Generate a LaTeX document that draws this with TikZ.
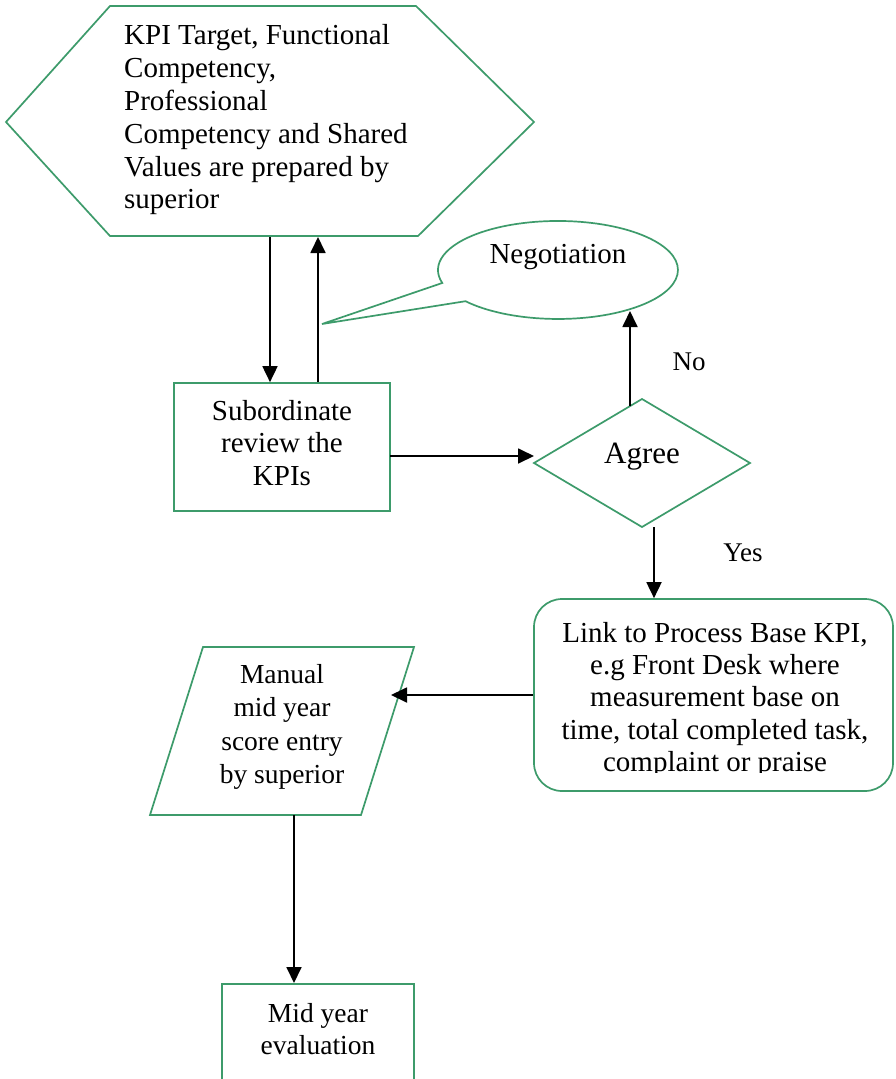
\documentclass[tikz,border=0pt]{standalone}
\usepackage{fontspec}
\setmainfont{Liberation Serif}
\usetikzlibrary{arrows.meta}
\definecolor{grn}{RGB}{61,155,107}
\begin{document}
\begin{tikzpicture}[x=1pt,y=1pt,
  gline/.style={draw=grn, line width=1.7pt, line join=miter},
  arr/.style={draw=black, line width=1.8pt, -{Triangle[length=16pt,width=15pt]}},
  txt/.style={font=\fontsize{29}{32.8}\selectfont, inner sep=0pt, align=center},
  stxt/.style={txt, font=\fontsize{27.5}{33.2}\selectfont},
  box/.style={gline, rectangle, inner sep=0pt},
]
\clip (0,0) rectangle (895,-1079);
\fill[white] (0,0) rectangle (895,-1079);

% hexagon
\coordinate (hA) at (6,-122);
\coordinate (hB) at (110,-6);
\coordinate (hC) at (416,-6);
\coordinate (hD) at (534,-122);
\coordinate (hE) at (418,-236);
\coordinate (hF) at (110,-236);
\draw[gline] (hA) -- (hB) -- (hC) -- (hD) -- (hE) -- (hF) -- cycle;
\node[txt, align=left, anchor=west] (hex) at (124,-120)
  {KPI Target, Functional\\Competency,\\Professional\\Competency and Shared\\Values are prepared by\\superior};
\coordinate (hexdown) at (270,-237);
\coordinate (hexup) at (318,-237);

% subordinate box
\node[box, minimum width=216, minimum height=128] (sub) at (282,-447) {};
\node[txt, font=\fontsize{29}{32.5}\selectfont] (subt) at (282,-443) {Subordinate\\review the\\KPIs};

\draw[arr] (hexdown) -- (hexdown |- sub.north);
\draw[arr] (hexup |- sub.north) -- (hexup);

% negotiation callout
\coordinate (tip) at (322,-324);
\draw[gline] (465.5,-301.2) arc[start angle=219.6, end angle=555.4, x radius=120, y radius=49] -- (tip) -- cycle;
\node[txt] (neg) at (558,-257) {Negotiation};
\coordinate (negb) at (630,-311);

% diamond
\coordinate (dL) at (534,-463);
\coordinate (dT) at (642,-399);
\coordinate (dR) at (750,-463);
\coordinate (dB) at (642,-527);
\draw[gline] (dL) -- (dT) -- (dR) -- (dB) -- cycle;
\node[txt, font=\fontsize{31}{36}\selectfont] (agree) at (642,-457) {Agree};

\coordinate (subout) at (390,-456);
\coordinate (agin) at (534,-456);
\draw[arr] (subout) -- (agin);

\coordinate (noStart) at (630,-406);
\draw[arr] (noStart) -- (negb);
\node[txt, font=\fontsize{27}{32}\selectfont] (no) at (689,-362) {No};

% link box
\node[gline, rectangle, rounded corners=28pt, minimum width=359, minimum height=192, inner sep=0pt] (link) at (713.5,-695) {};
\begin{scope}
  \clip (534,-599) rectangle (893,-772);
  \node[txt, font=\fontsize{29}{32.3}\selectfont] (linkt) at (715,-700)
    {Link to Process Base KPI,\\e.g Front Desk where\\measurement base on\\time, total completed task,\\complaint or praise};
\end{scope}

\coordinate (yesStart) at (654,-527);
\draw[arr] (yesStart) -- (yesStart |- link.north);
\node[txt, font=\fontsize{27}{32}\selectfont] (yes) at (743,-553) {Yes};

% parallelogram
\coordinate (pA) at (203,-647);
\coordinate (pB) at (414,-647);
\coordinate (pC) at (361,-815);
\coordinate (pD) at (150,-815);
\draw[gline] (pA) -- (pB) -- (pC) -- (pD) -- cycle;
\node[stxt] (manual) at (282,-727) {Manual\\mid year\\score entry\\by superior};
\coordinate (manin) at (391,-695);
\draw[arr] (link.west |- manin) -- (manin);

% mid year box
\node[box, minimum width=192, minimum height=120, anchor=north] (mid) at (318,-983) {};
\node[stxt, font=\fontsize{27.5}{32}\selectfont] (midt) at (318,-1029) {Mid year\\evaluation};
\coordinate (manout) at (294,-815);
\draw[arr] (manout) -- (manout |- mid.north);
\end{tikzpicture}
\end{document}
